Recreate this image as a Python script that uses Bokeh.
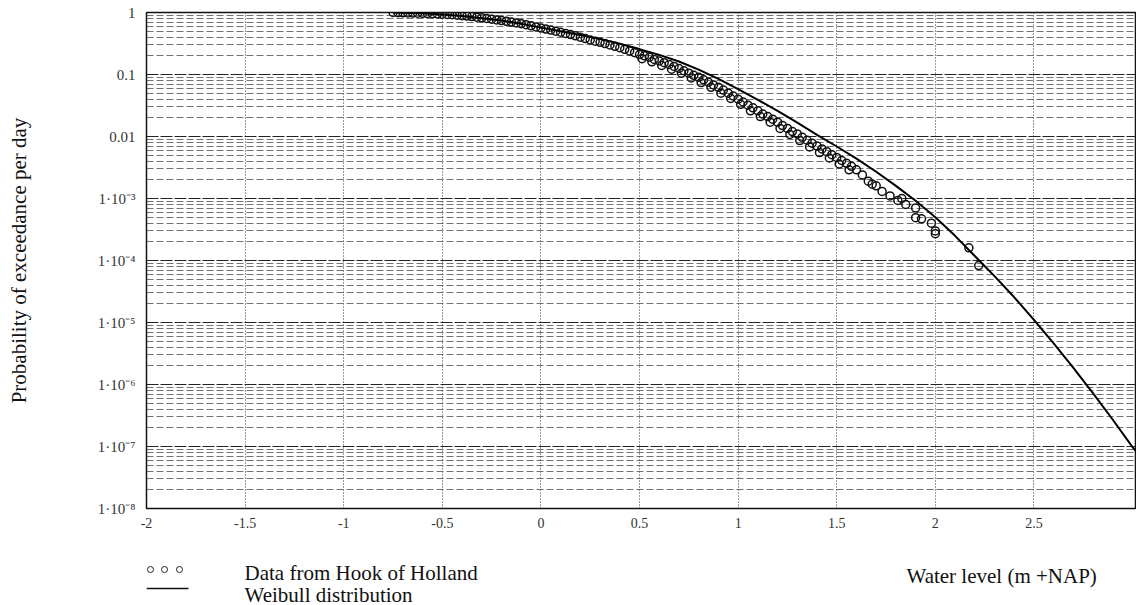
from bokeh.plotting import figure
from bokeh.layouts import column
from bokeh.models import FixedTicker
from bokeh.core.properties import value
from bokeh.embed import file_html
from bokeh.resources import INLINE

# ---------------- data ----------------
obs_level = [
    -0.750, -0.725, -0.700, -0.675, -0.650, -0.625, -0.600, -0.575, -0.550, -0.525,
    -0.500, -0.475, -0.450, -0.425, -0.400, -0.375, -0.350, -0.325, -0.300, -0.275,
    -0.250, -0.225, -0.200, -0.175, -0.150, -0.125, -0.100, -0.075, -0.050, -0.025,
    0.000, 0.025, 0.050, 0.075, 0.100, 0.125, 0.150, 0.175, 0.200, 0.225,
    0.250, 0.275, 0.300, 0.325, 0.350, 0.375, 0.400, 0.425, 0.450, 0.475,
    0.500, 0.525, 0.550, 0.575, 0.600, 0.625, 0.650, 0.675, 0.700, 0.725,
    0.750, 0.775, 0.800, 0.825, 0.850, 0.875, 0.900, 0.925, 0.950, 0.975,
    1.000, 1.025, 1.050, 1.075, 1.100, 1.125, 1.150, 1.175, 1.200, 1.225,
    1.250, 1.275, 1.300, 1.325, 1.350, 1.375, 1.400, 1.425, 1.450, 1.475,
    1.500, 1.525, 1.550, 1.575, 1.600,
    0.5125, 0.5625, 0.6125, 0.6625, 0.7125, 0.7625, 0.8125, 0.8625, 0.9125, 0.9625,
    1.0125, 1.0625, 1.1125, 1.1625, 1.2125, 1.2625, 1.3125, 1.3625, 1.4125, 1.4625,
    1.5125, 1.5625,
    1.63, 1.66, 1.68, 1.70, 1.73, 1.77, 1.81, 1.83, 1.85, 1.90,
    1.90, 1.93, 1.98, 2.00, 2.00, 2.17, 2.22,
]
obs_prob = [
    1.00, 0.995, 0.99, 0.985, 0.98, 0.975, 0.97, 0.965, 0.955, 0.95,
    0.94, 0.93, 0.92, 0.905, 0.89, 0.875, 0.86, 0.84, 0.82, 0.80,
    0.78, 0.76, 0.74, 0.72, 0.70, 0.68, 0.66, 0.635, 0.61, 0.585,
    0.56, 0.54, 0.52, 0.50, 0.48, 0.46, 0.44, 0.42, 0.40, 0.38,
    0.36, 0.345, 0.33, 0.315, 0.30, 0.285, 0.27, 0.255, 0.24, 0.225,
    0.21, 0.20, 0.19, 0.175, 0.165, 0.155, 0.145, 0.135, 0.125, 0.115,
    0.105, 0.097, 0.090, 0.082, 0.075, 0.068, 0.062, 0.056, 0.050, 0.045,
    0.040, 0.036, 0.032, 0.029, 0.026, 0.023, 0.021, 0.019, 0.017, 0.015,
    0.0135, 0.012, 0.011, 0.0097, 0.0087, 0.0078, 0.0070, 0.0063, 0.0057, 0.0051,
    0.0046, 0.0041, 0.0037, 0.0033, 0.0029,
    0.18, 0.16, 0.14, 0.122, 0.105, 0.088, 0.074, 0.062, 0.050, 0.041,
    0.033, 0.026, 0.021, 0.017, 0.0135, 0.0108, 0.0086, 0.0068, 0.0055, 0.0045,
    0.0036, 0.0029,
    0.0024, 0.0019, 0.0017, 0.0016, 0.0013, 0.0011, 0.00093, 0.0010, 0.00080, 0.00070,
    0.00049, 0.00047, 0.00040, 0.00027, 0.00030, 0.00016, 0.000083,
]

weibull_level = [-0.75, -0.60, -0.50, -0.40, -0.30, -0.20, -0.10, 0.00, 0.10, 0.20,
                 0.30, 0.40, 0.50, 0.60, 0.70, 0.80, 0.90, 1.00, 1.10, 1.20,
                 1.30, 1.40, 1.50, 1.60, 1.70, 1.80, 1.90, 2.00, 2.10, 2.20,
                 2.30, 2.40, 2.50, 2.60, 2.70, 2.80, 2.90, 3.00, 3.02]
weibull_prob = [1.0, 0.97, 0.93, 0.88, 0.81, 0.74, 0.66, 0.57, 0.50, 0.435,
                0.372, 0.313, 0.257, 0.207, 0.162, 0.120, 0.085, 0.058, 0.039, 0.026,
                0.0168, 0.0106, 0.0069, 0.0044, 0.0027, 0.0016, 0.00092, 0.00050, 0.00025, 0.000118,
                5.6e-5, 2.55e-5, 1.1e-5, 4.6e-6, 1.85e-6, 7.2e-7, 2.7e-7, 9.8e-8, 8.2e-8]

x_ticks = [-2, -1.5, -1, -0.5, 0, 0.5, 1, 1.5, 2, 2.5]
x_tick_labels = ["-2", "-1.5", "-1", "-0.5", "0", "0.5", "1", "1.5", "2", "2.5"]
y_ticks = [1.0, 0.1, 0.01, 1e-3, 1e-4, 1e-5, 1e-6, 1e-7, 1e-8]
y_tick_labels = ["1", "0.1", "0.01", "1·10⁻³", "1·10⁻⁴", "1·10⁻⁵", "1·10⁻⁶", "1·10⁻⁷", "1·10⁻⁸"]
y_minor_ticks = [m * 10.0 ** e for e in range(-8, 0) for m in range(2, 10)]

legend_labels = ["Data from Hook of Holland", "Weibull distribution"]
x_label = "Water level (m +NAP)"
y_label = "Probability of exceedance per day"

SERIF = "Liberation Serif"

# ---------------- main chart ----------------
p = figure(width=1136, height=540, x_range=(-2, 3.02), y_range=(1e-8, 1),
           y_axis_type="log", output_backend="svg", toolbar_location=None,
           min_border_left=146, min_border_right=0, min_border_top=12, min_border_bottom=32)
p.background_fill_color = "white"
p.border_fill_color = "white"
p.outline_line_color = "#111"
p.outline_line_width = 1.5

xt = FixedTicker(ticks=x_ticks)
yt = FixedTicker(ticks=y_ticks, minor_ticks=y_minor_ticks)
p.xaxis.ticker = xt
p.yaxis.ticker = yt
p.xgrid.ticker = xt
p.ygrid.ticker = yt
p.xaxis.major_label_overrides = dict(zip(x_ticks, x_tick_labels))
p.yaxis.major_label_overrides = dict(zip(y_ticks, y_tick_labels))

for ax in (p.xaxis, p.yaxis):
    ax.axis_line_color = None
    ax.major_tick_line_color = None
    ax.minor_tick_line_color = None
    ax.major_tick_out = 0
    ax.minor_tick_out = 0
    ax.major_label_text_font = SERIF
    ax.major_label_text_color = "#333"
p.xaxis.major_label_text_font_size = "14px"
p.yaxis.major_label_text_font_size = "15px"
p.xaxis.major_label_standoff = 9
p.yaxis.major_label_standoff = 11

p.yaxis.axis_label = y_label
p.yaxis.axis_label_text_font = SERIF
p.yaxis.axis_label_text_font_size = "21px"
p.yaxis.axis_label_text_font_style = "normal"
p.yaxis.axis_label_text_color = "#111"
p.yaxis.axis_label_standoff = 64

p.ygrid.grid_line_color = "#222"
p.ygrid.grid_line_width = 1.2
p.ygrid.grid_line_dash = "12 2"
p.ygrid.minor_grid_line_color = "#444"
p.ygrid.minor_grid_line_alpha = 0.75
p.ygrid.minor_grid_line_width = 1
p.ygrid.minor_grid_line_dash = "7 3"
p.xgrid.grid_line_color = "#333"
p.xgrid.grid_line_width = 1
p.xgrid.grid_line_dash = "1 2"

p.scatter(obs_level, obs_prob, marker="circle", size=8, fill_color=None,
          line_color="#111", line_width=1.5)
p.line(weibull_level, weibull_prob, line_color="#000", line_width=2)

# ---------------- legend strip (its frame lines up with the chart frame) ----------------
q = figure(width=1136, height=65, x_range=(146, 1136), y_range=(0, 65),
           output_backend="svg", toolbar_location=None,
           x_axis_location=None, y_axis_location=None,
           min_border_left=146, min_border_right=0, min_border_top=0, min_border_bottom=0)
q.grid.visible = False
q.outline_line_color = None

q.scatter([150, 164, 179], [36, 36, 36], marker="circle", size=6, fill_color=None,
          line_color="#222", line_width=1)
q.line([146, 188], [17, 17], line_color="#111", line_width=1.5)
q.text([244, 244], [33, 11], text=legend_labels, text_font=value(SERIF),
       text_font_size="21px", text_baseline="alphabetic", text_color="#111")
q.text([906], [30], text=[x_label], text_font=value(SERIF),
       text_font_size="21px", text_baseline="alphabetic", text_color="#111")

layout = column(p, q, spacing=0)
open("out.html", "w").write(file_html(layout, INLINE))
